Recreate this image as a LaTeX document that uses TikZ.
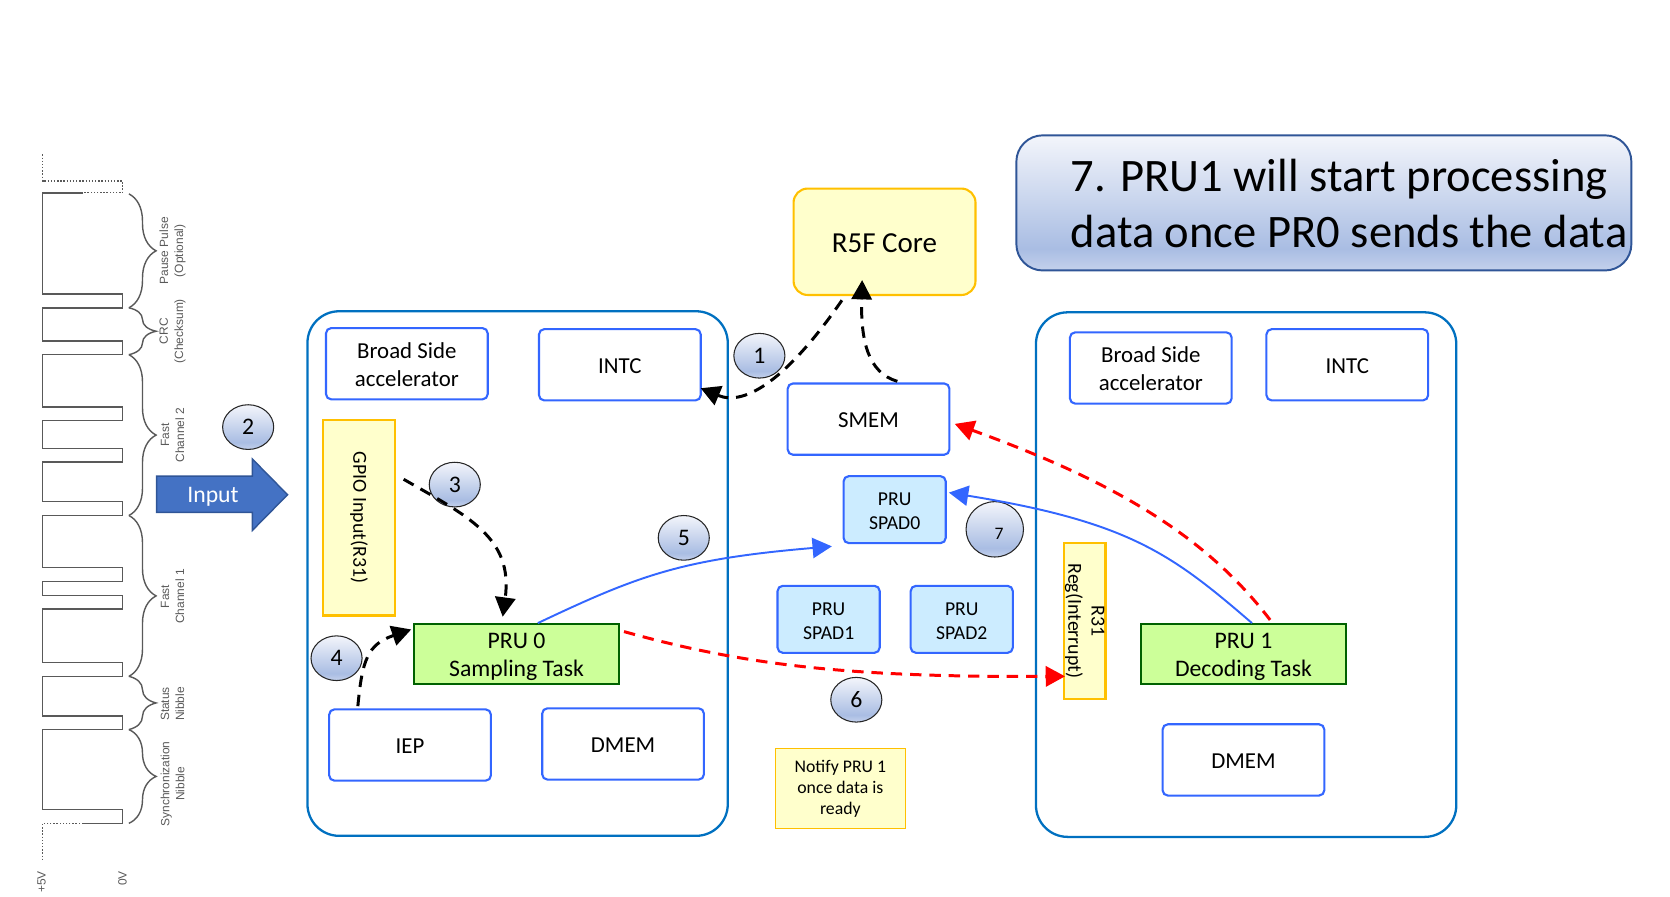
\documentclass[tikz,border=0pt]{standalone}
\usepackage{fontspec}
\setmainfont{Carlito}
\newfontfamily\wavefont{Liberation Sans}
\usepackage{xcolor}
\usepackage{tikz}
\usetikzlibrary{shapes,arrows.meta,calc,decorations.pathreplacing}
\definecolor{pruborder}{RGB}{51,102,255}
\definecolor{ssborder}{RGB}{0,112,192}
\definecolor{notefill}{RGB}{255,255,204}
\definecolor{noteborder}{RGB}{255,192,0}
\definecolor{taskfill}{RGB}{204,255,153}
\definecolor{taskborder}{RGB}{0,97,0}
\definecolor{spadfill}{RGB}{204,236,255}
\definecolor{wavegray}{RGB}{89,89,89}
\definecolor{inputfill}{RGB}{68,114,196}
\definecolor{inputborder}{RGB}{47,85,151}
\pgfdeclareverticalshading{bluegrad}{100bp}{rgb(0bp)=(0.77,0.82,0.925); rgb(25bp)=(0.77,0.82,0.925); rgb(33bp)=(0.663,0.741,0.89); rgb(75bp)=(0.953,0.961,0.984); rgb(100bp)=(0.953,0.961,0.984)}
\newcommand{\pxu}{0.6055pt}
\newcommand{\toprow}[2]{\rule{0pt}{#1}#2}
\tikzset{
    subsys/.style={draw=ssborder, line width=1.3pt, rounded corners=18pt, minimum width=395*\pxu, minimum height=493*\pxu},
    memblock/.style={draw=pruborder, line width=1.2pt, rounded corners=3pt, fill=white, align=center, minimum width=152*\pxu, minimum height=67*\pxu, font=\fontsize{13}{15.7}\selectfont, execute at begin node={\rule{0pt}{0.75em}}},
    spadblock/.style={memblock, fill=spadfill, minimum width=96*\pxu, minimum height=63*\pxu, font=\fontsize{11.2}{13.9}\selectfont},
    taskblock/.style={draw=taskborder, line width=1.2pt, fill=taskfill, align=center, inner ysep=0pt, minimum width=192*\pxu, minimum height=56*\pxu, font=\fontsize{13.5}{15.7}\selectfont},
    regblock/.style={draw=noteborder, line width=1.2pt, fill=notefill, align=center, rotate=-90, font=\fontsize{11.3}{13.3}\selectfont},
    stepnum/.style={ellipse, draw=black!85, line width=0.6pt, shading=bluegrad, inner sep=0pt, minimum width=48*\pxu, minimum height=42*\pxu, font=\fontsize{13.5}{15}\selectfont},
    bracelabel/.style={rotate=90, align=center, text=wavegray, font=\wavefont\fontsize{6.8}{8.6}\selectfont},
    flowblack/.style={line width=1.7pt, dash pattern=on 6.5pt off 4.5pt, -{Triangle[length=11pt,width=11.5pt]}},
    flowred/.style={flowblack, red},
    flowblue/.style={line width=1.1pt, pruborder, -{Triangle[length=11pt,width=11.5pt]}},
}

\begin{document}
\begin{tikzpicture}[x=0.0213cm, y=-0.0213cm]
    \useasboundingbox (0,0) rectangle (1568,841.3);

    % Waveform
    \draw[wavegray, line width=0.8pt, densely dotted] (40,145) -- (40,170) -- (115,170) -- (115,181) -- (78,181);
    \draw[wavegray, line width=0.8pt, densely dotted] (78,773) -- (40,773) -- (40,808);
    \draw[wavegray, line width=0.9pt] (78,181) -- (40,181) -- (40,276) -- (115,276) -- (115,289) -- (40,289)
        -- (40,320) -- (115,320) -- (115,333) -- (40,333) -- (40,382) -- (115,382) -- (115,395) -- (40,395)
        -- (40,421) -- (115,421) -- (115,434) -- (40,434) -- (40,471) -- (115,471) -- (115,484) -- (40,484)
        -- (40,533) -- (115,533) -- (115,546) -- (40,546) -- (40,559) -- (115,559) -- (115,572) -- (40,572)
        -- (40,622) -- (115,622) -- (115,635) -- (40,635) -- (40,672) -- (115,672) -- (115,685) -- (40,685)
        -- (40,760) -- (115,760) -- (115,773) -- (78,773);

    % Braces
    \foreach \ya/\yb in {182/289, 289/333, 333/484, 484/635, 635/685, 685/773} {
        \draw[wavegray, line width=0.8pt, decorate, decoration={brace, amplitude=15.5pt}] (121,\ya) -- (121,\yb);
    }

    % Brace labels
    \foreach \ymid/\name/\txt in {235.5/pause/{Pause Pulse\\(Optional)}, 311/crc/{CRC\\(Checksum)}, 408.5/fasttwo/{Fast\\Channel 2},
        560/fastone/{Fast\\Channel 1}, 661/status/{Status\\Nibble}, 736/sync/{Synchronization\\Nibble}} {
        \node[bracelabel] (\name) at (162,\ymid) {\txt};
    }
    \node[bracelabel] (plusfive) at (39,828) {+5V};
    \node[bracelabel] (zerovolt) at (115,825) {0V};

    % Input arrow
    \draw[fill=inputfill, draw=inputborder, line width=0.8pt] (147,447) -- (237,447) -- (237,431) -- (270,464.5)
        -- (237,498) -- (237,481) -- (147,481) -- cycle;
    \node[text=white, font=\fontsize{13.5}{15}\selectfont] (input) at (200,466) {Input};

    % PRU 0 subsystem
    \node[subsys] (prusszero) at (486,538.5) {};
    \node[memblock] (broadzero) at (382,341.5) {\toprow{10pt}{Broad Side}\\accelerator};
    \node[memblock] (intczero) at (582,342.5) {INTC};
    \node[regblock, minimum width=184*\pxu, minimum height=68*\pxu] (gpio) at (337,486) {GPIO Input(R31)};
    \node[taskblock] (pruzero) at (485,614) {\toprow{12pt}{PRU 0}\\Sampling Task};
    \node[memblock] (iep) at (385,699.5) {IEP};
    \node[memblock] (dmemzero) at (585,698.5) {DMEM};

    % PRU 1 subsystem
    \node[subsys] (prussone) at (1170,539.5) {};
    \node[memblock] (broadone) at (1080.5,345.5) {\toprow{10pt}{Broad Side}\\accelerator};
    \node[memblock] (intcone) at (1265,342.5) {INTC};
    \node[regblock, minimum width=146*\pxu, minimum height=39*\pxu, inner sep=0pt] (rthirtyone) at (1018.5,583) {R31\\Reg(Interrupt)};
    \node[taskblock] (pruone) at (1167.5,614) {\toprow{12pt}{PRU 1}\\Decoding Task};
    \node[memblock] (dmemone) at (1167.5,713.5) {DMEM};

    % Shared blocks
    \node[memblock, draw=noteborder, fill=notefill, minimum width=171*\pxu, minimum height=100*\pxu, rounded corners=8pt, font=\fontsize{16.5}{19}\selectfont] (rfive) at (830.5,227) {R5F Core};
    \node[memblock] (smem) at (815.5,393.5) {SMEM};
    \node[spadblock] (spadzero) at (840,478.5) {\toprow{9.2pt}{PRU}\\SPAD0};
    \node[spadblock] (spadone) at (778,581.5) {\toprow{9.2pt}{PRU}\\SPAD1};
    \node[spadblock] (spadtwo) at (903,581.5) {\toprow{9.2pt}{PRU}\\SPAD2};
    \node[draw=noteborder, line width=0.7pt, fill=notefill, align=center, minimum width=122*\pxu, minimum height=75*\pxu, inner sep=0pt, font=\fontsize{10.1}{12.1}\selectfont] (notify) at (789,740.5) {Notify PRU 1\\once data is\\ready};

    % Step bubbles
    \node[stepnum] (stepone) at (713,334) {1};
    \node[stepnum] (steptwo) at (233,401) {2};
    \node[stepnum] (stepthree) at (427,455) {3};
    \node[stepnum] (stepfour) at (316,618) {4};
    \node[stepnum] (stepfive) at (642,505) {5};
    \node[stepnum] (stepsix) at (804,657) {6};
    \node[stepnum, minimum width=54*\pxu, minimum height=52*\pxu] (stepseven) at (934,497) {};
    \node[font=\fontsize{10}{12}\selectfont, inner sep=0pt] (stepseventxt) at (938,501) {7};

    % Callout
    \node[draw=inputborder, line width=1.1pt, rounded corners=15pt, shading=bluegrad, minimum width=578*\pxu, minimum height=127*\pxu] (callout) at (1243,190.5) {};
    \node[anchor=west, align=left, inner sep=0pt, font=\fontsize{26.5}{31.5}\selectfont] (callouttxt) at (1005,191) {7. PRU1 will start processing\\data once PR0 sends the data};

    % Black flows
    \draw[flowblack] ($(rfive.south)+(-40,4)$) .. controls (740,355) and (700,382) .. ($(intczero.east)+(-1,22)$);
    \draw[flowblack] ($(smem.north)+(27,-1)$) .. controls (815,350) and (808,320) .. ($(rfive.south)+(-21,-15)$);
    \draw[flowblack] ($(gpio.center)+(42,-36)$) .. controls (440,485) and (482,505) .. ($(pruzero.north)+(-13,-6)$);
    \draw[flowblack] ($(iep.north)+(-49,-2)$) .. controls (340,620) and (345,605) .. ($(pruzero.west)+(-2,-23)$);

    % Data flows
    \draw[flowblue] ($(pruzero.north)+(20,0)$) .. controls (600,540) and (640,525) .. ($(spadzero.south west)+(-10,2)$);
    \draw[flowblue] ($(pruone.north)+(8,0)$) .. controls (1100,520) and (1060,490) .. ($(spadzero.east)+(2,-16)$);
    \draw[flowred] ($(pruzero.east)+(4,-21)$) .. controls (700,625) and (800,636) .. ($(rthirtyone.center)+(-18.5,52)$);
    \draw[flowred] ($(pruone.north)+(25,-3)$) .. controls (1130,500) and (1040,450) .. ($(smem.east)+(4,4.5)$);
\end{tikzpicture}
\end{document}
